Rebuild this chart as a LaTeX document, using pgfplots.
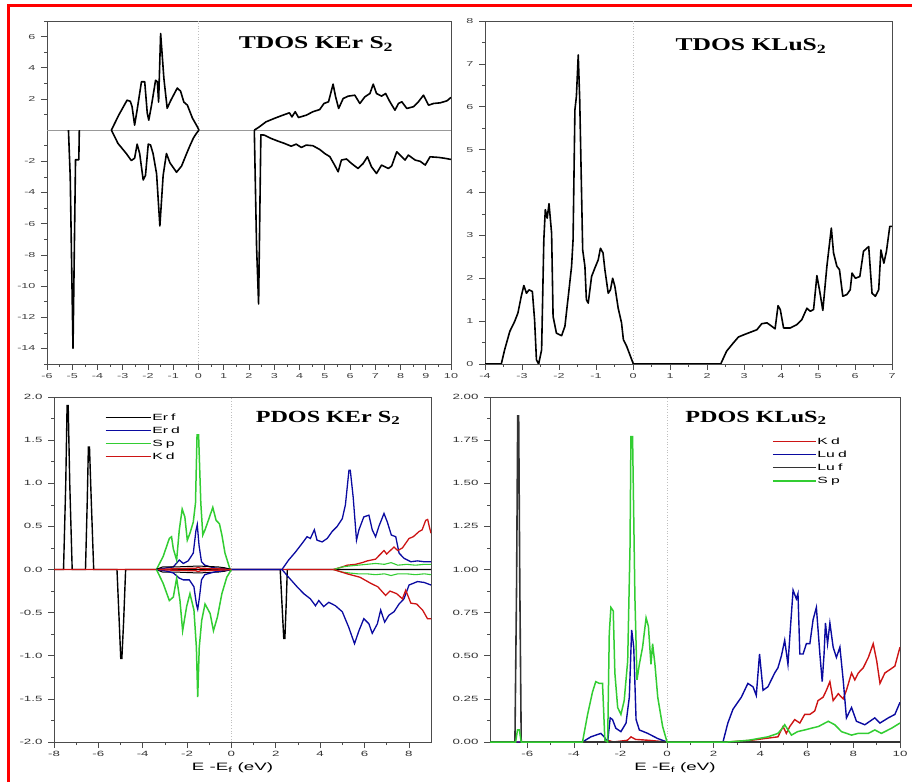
\documentclass[border=0pt]{standalone}
\usepackage{fontspec}
\setmainfont[FakeStretch=1.75]{Liberation Sans}
\newfontfamily\titlefont[FakeStretch=1.42]{Liberation Serif}
\usepackage{pgfplots}
\pgfplotsset{compat=1.18}
\definecolor{dblue}{RGB}{10,10,160}
\definecolor{sgreen}{RGB}{50,205,50}
\definecolor{kred}{RGB}{205,20,20}
\pgfplotsset{
  every axis/.append style={scale only axis, axis line style={black!70, line width=0.8pt},
    tick align=outside, tick style={black!70, line width=0.6pt}, major tick length=6pt, minor tick length=3pt,
    xtick pos=bottom, ytick pos=left, /pgf/number format/assume math mode=true,
    yticklabel style={xshift=-2pt}},
  dos/.style={black, line width=1.6pt, line join=round},
  zeroline/.style={black!25, dotted, line width=0.7pt, forget plot},
  pleg/.style={legend style={draw=none, fill=none, inner sep=0pt, font=\fontsize{9}{10}\selectfont, row sep=2.1pt,
     nodes={inner sep=1pt, text height=7pt, text depth=2pt}}, legend cell align=left},
}
\begin{document}
\begin{tikzpicture}
\useasboundingbox (0pt,0pt) rectangle (912pt,782pt);
\draw[red, line width=3pt] (8pt,0pt) -- (8pt,776pt) -- (912pt,776pt);

% ---------------- Panel 1: TDOS KErS2 ----------------
\begin{axis}[at={(47pt,418pt)}, anchor=south west, width=404pt, height=343pt,
  xmin=-6, xmax=10, ymin=-15, ymax=7,
  xtick={-6,...,10}, minor x tick num=1,
  ytick={-14,-12,-10,-8,-6,-4,-2,2,4,6}, minor ytick={-15,-13,...,7},
  tick label style={font=\fontsize{7.2}{8}\selectfont, text=black!75}]
\addplot[black!40, line width=0.8pt] coordinates {(-6,0) (10,0)};
\addplot[zeroline] coordinates {(0,-15) (0,7)};
\addplot[dos] coordinates {(-5.15,0) (-5.08,-3) (-4.97,-14) (-4.87,-1.9) (-4.74,-1.9) (-4.72,0)};
\addplot[dos] coordinates {(-3.45,0) (-3.16,0.96) (-2.83,1.92) (-2.70,1.85) (-2.63,1.5) (-2.53,0.32) (-2.43,1.3) (-2.26,3.1) (-2.13,3.1) (-2.03,1.1) (-1.97,0.64) (-1.86,1.6) (-1.70,3.2) (-1.63,3.1) (-1.58,1.8) (-1.50,6.2) (-1.37,3.3) (-1.24,1.4) (-1.10,1.9) (-0.84,2.7) (-0.71,2.5) (-0.58,1.8) (-0.44,1.6) (-0.24,0.77) (-0.04,0.2) (0.02,0)};
\addplot[dos] coordinates {(-3.45,0) (-3.19,-0.85) (-2.86,-1.5) (-2.66,-1.95) (-2.53,-1.8) (-2.43,-0.9) (-2.33,-1.5) (-2.19,-3.2) (-2.10,-2.9) (-1.99,-0.9) (-1.90,-0.95) (-1.80,-1.5) (-1.66,-2.8) (-1.53,-6.15) (-1.40,-2.9) (-1.27,-1.5) (-1.13,-2.1) (-0.87,-2.7) (-0.67,-2.3) (-0.47,-1.5) (-0.34,-1.0) (-0.20,-0.5) (-0.08,-0.2) (0.02,0)};
\addplot[dos] coordinates {(2.21,0) (2.41,0.21) (2.67,0.53) (3.0,0.75) (3.34,0.96) (3.60,1.11) (3.70,0.85) (3.83,1.18) (3.96,0.81) (4.27,0.96) (4.53,1.18) (4.80,1.32) (4.97,1.71) (5.15,1.82) (5.33,2.95) (5.43,2.14) (5.55,1.39) (5.73,2.03) (5.93,2.18) (6.19,2.24) (6.39,1.71) (6.59,2.14) (6.79,2.35) (6.92,2.95) (7.05,2.35) (7.25,2.18) (7.41,2.35) (7.58,1.82) (7.78,1.28) (7.92,1.71) (8.05,1.82) (8.25,1.39) (8.51,1.50) (8.71,1.82) (8.91,2.24) (9.11,1.60) (9.31,1.71) (9.57,1.75) (9.84,1.88) (10.0,2.10)};
\addplot[dos] coordinates {(2.21,0) (2.30,-7.5) (2.38,-11.15) (2.47,-0.3) (2.61,-0.32) (2.87,-0.53) (3.14,-0.70) (3.40,-0.85) (3.67,-1.03) (3.87,-0.9) (4.07,-1.11) (4.27,-0.96) (4.53,-1.0) (4.80,-1.24) (5.0,-1.50) (5.2,-1.7) (5.39,-2.24) (5.53,-2.67) (5.66,-1.92) (5.86,-1.85) (6.06,-2.14) (6.32,-2.46) (6.52,-2.14) (6.69,-1.71) (6.85,-2.35) (7.05,-2.78) (7.25,-2.24) (7.52,-2.46) (7.65,-2.3) (7.85,-1.39) (8.05,-1.71) (8.18,-1.92) (8.31,-1.6) (8.58,-1.92) (8.78,-2.0) (8.98,-2.24) (9.17,-1.71) (9.51,-1.75) (9.77,-1.81) (10.0,-1.88)};
\end{axis}

% ---------------- Panel 2: TDOS KLuS2 ----------------
\begin{axis}[at={(485pt,418pt)}, anchor=south west, width=407pt, height=343pt,
  xmin=-4, xmax=7, ymin=0, ymax=8,
  xtick={-4,...,7}, minor x tick num=1,
  ytick={0,...,8}, minor y tick num=1,
  tick label style={font=\fontsize{7.2}{8}\selectfont, text=black!75}]
\addplot[zeroline] coordinates {(0,0) (0,8)};
\addplot[dos] coordinates {(-4,0) (-3.56,0) (-3.47,0.33) (-3.33,0.76) (-3.20,0.99) (-3.11,1.19) (-3.02,1.58) (-2.95,1.83) (-2.88,1.65) (-2.81,1.73) (-2.72,1.69) (-2.66,1.03) (-2.61,0.10) (-2.55,0) (-2.47,0.33) (-2.41,2.90) (-2.37,3.60) (-2.32,3.40) (-2.27,3.74) (-2.20,3.05) (-2.16,1.11) (-2.07,0.72) (-1.93,0.66) (-1.84,0.88) (-1.73,1.73) (-1.66,2.28) (-1.62,2.90) (-1.57,5.93) (-1.53,6.24) (-1.48,7.21) (-1.44,6.16) (-1.36,2.66) (-1.30,2.28) (-1.26,1.50) (-1.21,1.42) (-1.12,2.04) (-1.03,2.24) (-0.94,2.43) (-0.88,2.70) (-0.81,2.59) (-0.76,2.20) (-0.67,1.65) (-0.61,1.73) (-0.55,2.00) (-0.49,1.81) (-0.40,1.30) (-0.31,0.96) (-0.26,0.57) (-0.17,0.41) (0.01,0) (2.37,0) (2.53,0.30) (2.71,0.49) (2.85,0.63) (2.99,0.68) (3.17,0.74) (3.35,0.80) (3.48,0.94) (3.62,0.96) (3.75,0.88) (3.84,0.82) (3.92,1.36) (3.98,1.27) (4.07,0.84) (4.25,0.84) (4.43,0.92) (4.56,1.03) (4.70,1.30) (4.79,1.23) (4.88,1.27) (4.97,2.06) (5.04,1.73) (5.13,1.25) (5.24,2.28) (5.36,3.17) (5.42,2.59) (5.51,2.28) (5.58,2.20) (5.67,1.58) (5.78,1.62) (5.87,1.73) (5.92,2.12) (6.01,2.00) (6.13,2.04) (6.23,2.63) (6.37,2.74) (6.46,1.65) (6.55,1.58) (6.64,1.73) (6.70,2.66) (6.78,2.35) (6.85,2.63) (6.94,3.21) (7.0,3.21)};
\end{axis}

% ---------------- Panel 3: PDOS KErS2 ----------------
\begin{axis}[at={(54pt,40pt)}, anchor=south west, width=377pt, height=345pt,
  xmin=-8, xmax=9, ymin=-2, ymax=2,
  xtick={-8,-6,...,8}, minor x tick num=1,
  ytick={-2,-1.5,...,2}, minor y tick num=1,
  yticklabel style={/pgf/number format/.cd, fixed, fixed zerofill, precision=1},
  tick label style={font=\fontsize{7.6}{8}\selectfont, text=black!80},
  xlabel={E -E\textsubscript{f} (eV)}, xlabel style={font=\fontsize{10.7}{12}\selectfont, yshift=1pt, xshift=-10pt},
  pleg, legend style={at={(0.135,0.957)}, anchor=north west},
  legend image code/.code={\draw[#1, line width=1.2pt] (0pt,0pt) -- (45pt,0pt);}]
\addplot[zeroline] coordinates {(0,-2) (0,2)};
\addplot[black, line width=1.4pt] coordinates {(-8,0) (-7.57,0) (-7.47,1.0) (-7.41,1.90) (-7.36,1.90) (-7.29,1.0) (-7.18,0) (-6.58,0) (-6.50,0.8) (-6.45,1.42) (-6.40,1.42) (-6.32,0.8) (-6.21,0) (-5.16,0) (-5.06,-0.6) (-4.99,-1.03) (-4.94,-1.03) (-4.86,-0.6) (-4.77,0) (2.20,0) (2.30,-0.5) (2.36,-0.80) (2.41,-0.80) (2.47,-0.4) (2.52,0) (9,0)};
\addlegendentry{Er\hspace{0.35em}f}
\addplot[dblue, line width=1.3pt] coordinates {(-3.38,0) (-2.9,0.02) (-2.62,0.03) (-2.35,0.11) (-2.17,0.07) (-1.95,0.10) (-1.72,0.19) (-1.60,0.45) (-1.54,0.52) (-1.46,0.28) (-1.35,0.09) (-1.2,0.05) (-0.81,0.02) (0,0) (2.28,0) (2.58,0.11) (2.88,0.20) (3.18,0.30) (3.41,0.38) (3.56,0.36) (3.74,0.46) (3.86,0.34) (4.09,0.32) (4.32,0.36) (4.54,0.44) (4.77,0.50) (5.00,0.59) (5.14,0.75) (5.30,1.15) (5.36,1.15) (5.49,0.84) (5.64,0.34) (5.75,0.46) (5.97,0.61) (6.20,0.63) (6.35,0.46) (6.50,0.38) (6.65,0.50) (6.88,0.65) (7.03,0.55) (7.21,0.40) (7.41,0.38) (7.56,0.19) (7.78,0.13) (8.09,0.09) (8.39,0.10) (8.69,0.09) (9,0.09)};
\addlegendentry{Er\hspace{0.35em}d}
\addplot[sgreen, line width=1.5pt] coordinates {(-3.38,0) (-3.08,0.15) (-2.80,0.36) (-2.70,0.38) (-2.62,0.24) (-2.47,0.11) (-2.35,0.46) (-2.22,0.70) (-2.10,0.61) (-1.99,0.34) (-1.87,0.42) (-1.72,0.55) (-1.62,0.77) (-1.55,1.56) (-1.48,1.56) (-1.38,0.77) (-1.29,0.40) (-1.19,0.46) (-1.04,0.57) (-0.84,0.72) (-0.69,0.57) (-0.54,0.53) (-0.43,0.40) (-0.29,0.19) (-0.06,0)};
\addlegendentry{S\hspace{0.35em}p}
\addplot[kred, line width=1.3pt] coordinates {(-8,0) (-3.3,0) (-2.5,0.01) (-1.6,0.015) (-1.5,0.025) (-1.4,0.015) (-0.3,0.005) (0,0) (4.6,0) (5.0,0.03) (5.22,0.05) (5.6,0.06) (5.9,0.08) (6.13,0.10) (6.5,0.12) (6.88,0.22) (7.0,0.18) (7.33,0.26) (7.5,0.22) (7.71,0.25) (8.01,0.36) (8.2,0.38) (8.46,0.44) (8.6,0.46) (8.76,0.57) (8.85,0.58) (8.92,0.50) (9,0.42)};
\addlegendentry{K\hspace{0.35em}d}
\addplot[black, line width=1pt, forget plot] coordinates {(-3.4,0) (-3.1,0.03) (-2.5,0.03) (-1.5,0.04) (-0.6,0.03) (-0.3,0.02) (0,0)};
\addplot[black, line width=1pt, forget plot] coordinates {(-3.4,0) (-3.1,-0.03) (-2.5,-0.03) (-1.5,-0.04) (-0.6,-0.03) (-0.3,-0.02) (0,0)};
\addplot[dblue, line width=1.3pt, forget plot] coordinates {(-3.38,0) (-2.9,-0.02) (-2.62,-0.04) (-2.35,-0.10) (-2.17,-0.12) (-1.9,-0.12) (-1.69,-0.20) (-1.58,-0.40) (-1.52,-0.46) (-1.44,-0.32) (-1.35,-0.12) (-1.2,-0.06) (-0.8,-0.03) (0,0) (2.28,0) (2.58,-0.09) (2.96,-0.20) (3.26,-0.28) (3.56,-0.34) (3.79,-0.42) (3.94,-0.36) (4.16,-0.43) (4.39,-0.38) (4.69,-0.42) (5.00,-0.49) (5.29,-0.67) (5.55,-0.86) (5.75,-0.71) (5.97,-0.57) (6.20,-0.63) (6.35,-0.74) (6.58,-0.63) (6.73,-0.47) (6.91,-0.61) (7.10,-0.53) (7.33,-0.49) (7.56,-0.40) (7.78,-0.34) (8.01,-0.18) (8.39,-0.14) (8.69,-0.15) (9,-0.18)};
\addplot[sgreen, line width=1.5pt, forget plot] coordinates {(-3.38,0) (-3.08,-0.16) (-2.80,-0.36) (-2.62,-0.32) (-2.47,-0.10) (-2.32,-0.36) (-2.20,-0.71) (-2.02,-0.43) (-1.87,-0.28) (-1.69,-0.47) (-1.58,-0.9) (-1.52,-1.48) (-1.45,-0.9) (-1.34,-0.59) (-1.19,-0.40) (-0.96,-0.51) (-0.81,-0.71) (-0.63,-0.55) (-0.43,-0.28) (-0.21,-0.09) (0,0)};
\addplot[sgreen, line width=1.1pt, forget plot] coordinates {(4.6,0) (5.0,0.03) (5.3,0.04) (5.7,0.05) (6.1,0.06) (6.5,0.07) (6.9,0.06) (7.2,0.08) (7.5,0.05) (7.9,0.06) (8.3,0.05) (8.7,0.06) (9,0.06)};
\addplot[sgreen, line width=1.1pt, forget plot] coordinates {(4.6,0) (5.0,-0.03) (5.3,-0.04) (5.7,-0.05) (6.1,-0.05) (6.5,-0.06) (6.9,-0.05) (7.2,-0.07) (7.5,-0.05) (7.9,-0.05) (8.3,-0.06) (8.7,-0.05) (9,-0.06)};
\addplot[kred, line width=1.3pt, forget plot] coordinates {(-3.3,0) (-2.5,-0.01) (-1.6,-0.015) (-1.5,-0.025) (-1.4,-0.015) (-0.3,-0.005) (0,0)};
\addplot[kred, line width=1.3pt, forget plot] coordinates {(4.6,0) (5.22,-0.05) (5.8,-0.09) (6.28,-0.16) (6.6,-0.20) (6.95,-0.30) (7.15,-0.25) (7.45,-0.28) (7.71,-0.34) (7.86,-0.24) (8.09,-0.39) (8.35,-0.40) (8.62,-0.47) (8.84,-0.57) (9,-0.57)};
\end{axis}

% ---------------- Panel 4: PDOS KLuS2 ----------------
\begin{axis}[at={(490pt,40pt)}, anchor=south west, width=410pt, height=345pt,
  xmin=-7.6, xmax=10, ymin=0, ymax=2,
  xtick={-6,-4,...,10}, minor x tick num=1,
  ytick={0,0.25,...,2}, minor y tick num=1,
  yticklabel style={/pgf/number format/.cd, fixed, fixed zerofill, precision=2},
  tick label style={font=\fontsize{7.6}{8}\selectfont, text=black!80},
  xlabel={E -E\textsubscript{f} (eV)}, xlabel style={font=\fontsize{10.7}{12}\selectfont, yshift=1pt, xshift=-20pt},
  pleg, legend style={at={(0.688,0.887)}, anchor=north west},
  legend image code/.code={\draw[#1, line width=1.2pt] (0pt,0pt) -- (43pt,0pt);}]
\addplot[zeroline] coordinates {(0,0) (0,2)};
\addplot[kred, line width=1.4pt] coordinates {(-7.6,0) (-2.7,0) (-2.55,0.01) (-2.3,0) (-1.7,0.01) (-1.55,0.03) (-1.35,0.015) (-0.8,0.01) (0,0) (2.61,0) (3.62,0.01) (4.76,0.03) (4.98,0.09) (5.12,0.05) (5.27,0.09) (5.48,0.13) (5.70,0.11) (5.91,0.16) (6.13,0.16) (6.34,0.18) (6.48,0.24) (6.70,0.26) (6.84,0.30) (6.99,0.35) (7.13,0.24) (7.35,0.28) (7.56,0.25) (7.70,0.30) (7.92,0.40) (8.06,0.36) (8.21,0.40) (8.42,0.43) (8.64,0.49) (8.85,0.57) (9.00,0.47) (9.14,0.34) (9.35,0.40) (9.57,0.42) (9.78,0.44) (10.0,0.55)};
\addlegendentry{K\hspace{0.35em}d}
\addplot[dblue, line width=1.4pt] coordinates {(-7.6,0) (-3.63,0) (-3.27,0.03) (-2.84,0.05) (-2.70,0.03) (-2.55,0) (-2.44,0.14) (-2.34,0.13) (-2.20,0.08) (-1.98,0.06) (-1.76,0.11) (-1.62,0.26) (-1.52,0.65) (-1.43,0.55) (-1.33,0.13) (-1.19,0.07) (-0.83,0.05) (-0.40,0.02) (0,0) (2.40,0) (2.61,0.11) (2.83,0.19) (3.19,0.26) (3.47,0.34) (3.69,0.32) (3.83,0.27) (3.97,0.51) (4.12,0.30) (4.33,0.32) (4.62,0.40) (4.76,0.43) (4.91,0.50) (5.05,0.59) (5.19,0.45) (5.29,0.65) (5.41,0.88) (5.55,0.83) (5.62,0.86) (5.70,0.51) (5.84,0.51) (5.98,0.57) (6.13,0.57) (6.27,0.71) (6.41,0.78) (6.56,0.51) (6.66,0.35) (6.74,0.51) (6.80,0.69) (6.89,0.57) (6.99,0.69) (7.13,0.55) (7.27,0.49) (7.42,0.55) (7.56,0.36) (7.70,0.14) (7.92,0.20) (8.13,0.12) (8.49,0.10) (8.92,0.14) (9.14,0.11) (9.50,0.14) (9.78,0.16) (10.0,0.23)};
\addlegendentry{Lu\hspace{0.35em}d}
\addplot[black!80, line width=1.6pt] coordinates {(-7.6,0) (-6.53,0) (-6.46,0.9) (-6.41,1.89) (-6.37,1.89) (-6.32,0.9) (-6.26,0) (10,0)};
\addlegendentry{Lu\hspace{0.35em}f}
\addplot[sgreen, line width=1.5pt] coordinates {(-7.6,0) (-6.5,0) (-6.42,0.07) (-6.34,0.07) (-6.26,0) (-3.63,0) (-3.41,0.16) (-3.20,0.29) (-3.06,0.35) (-2.91,0.34) (-2.77,0.34) (-2.67,0.01) (-2.55,0) (-2.48,0.63) (-2.41,0.78) (-2.31,0.76) (-2.24,0.40) (-2.12,0.20) (-1.98,0.16) (-1.84,0.24) (-1.69,0.47) (-1.59,1.13) (-1.55,1.77) (-1.48,1.77) (-1.38,0.84) (-1.29,0.36) (-1.19,0.45) (-1.05,0.55) (-0.90,0.72) (-0.80,0.67) (-0.69,0.45) (-0.62,0.57) (-0.52,0.45) (-0.40,0.26) (-0.19,0.09) (0,0) (2.6,0) (3.5,0.01) (4.33,0.03) (4.76,0.05) (4.95,0.08) (5.05,0.10) (5.34,0.04) (5.6,0.06) (5.91,0.07) (6.2,0.08) (6.5,0.09) (6.92,0.12) (7.2,0.10) (7.49,0.06) (7.92,0.04) (8.2,0.05) (8.64,0.05) (8.92,0.07) (9.2,0.05) (9.64,0.08) (10.0,0.11)};
\addlegendentry{S\hspace{0.35em}p}
\end{axis}

% titles
\node[font=\titlefont\bfseries\fontsize{18}{20}\selectfont] at (316pt,738pt) {TDOS KEr S\textsubscript{2}};
\node[font=\titlefont\bfseries\fontsize{18}{20}\selectfont] at (751pt,736pt) {TDOS KLuS\textsubscript{2}};
\node[font=\titlefont\bfseries\fontsize{17}{19}\selectfont] at (328pt,364pt) {PDOS KEr S\textsubscript{2}};
\node[font=\titlefont\bfseries\fontsize{17}{19}\selectfont] at (756pt,364pt) {PDOS KLuS\textsubscript{2}};
\end{tikzpicture}
\end{document}
